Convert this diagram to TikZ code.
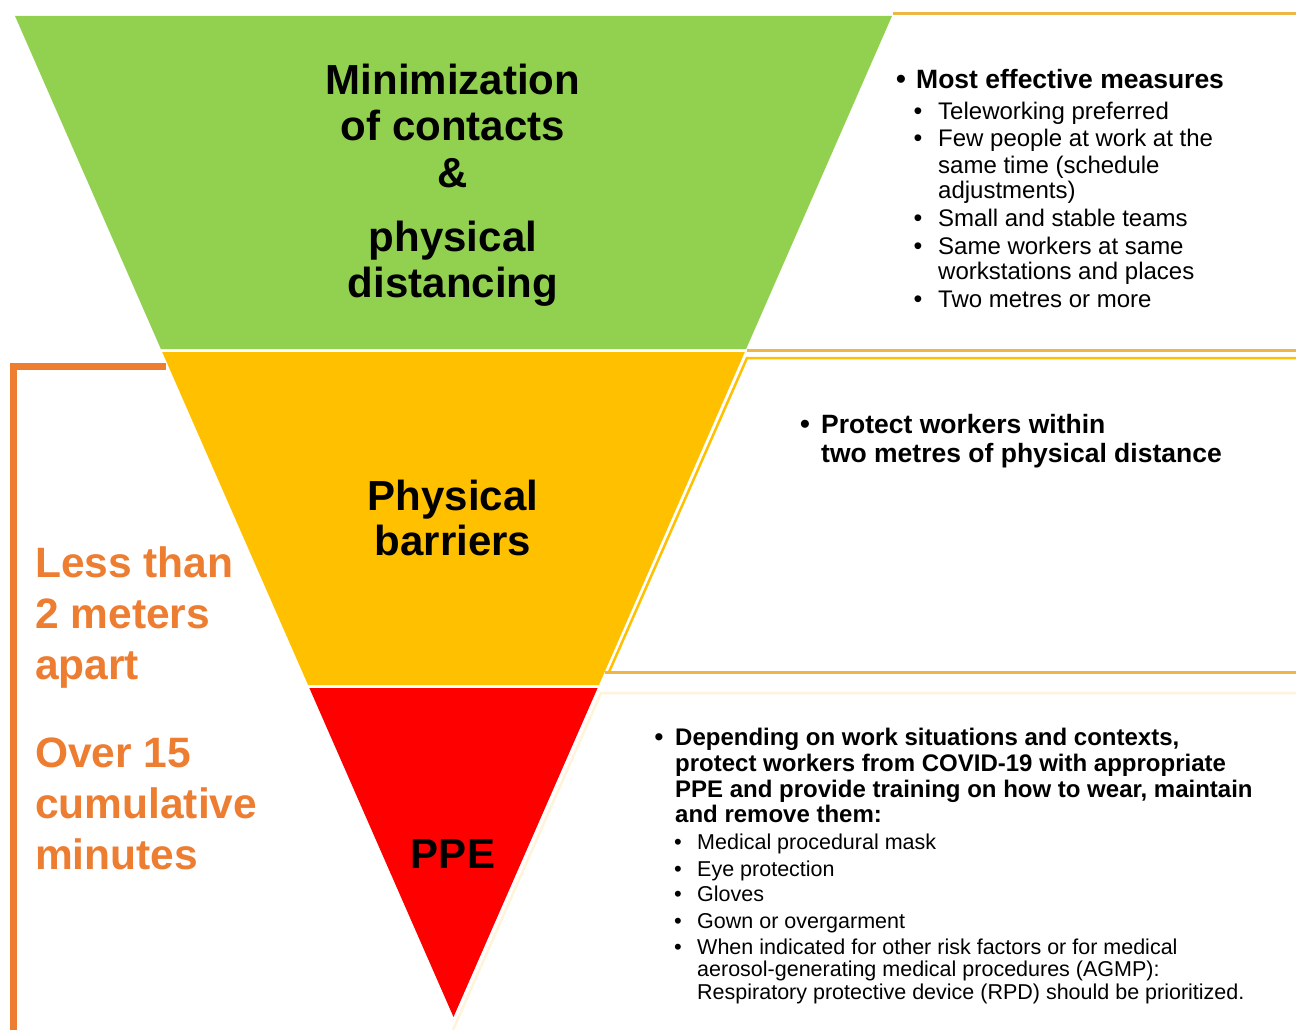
\documentclass[tikz,border=0pt]{standalone}
\usepackage{fontspec}
\setmainfont{Liberation Sans}
\usetikzlibrary{calc}
\definecolor{cgreen}{HTML}{92D050}
\definecolor{cyellow}{HTML}{FFC000}
\definecolor{cred}{HTML}{FF0000}
\definecolor{corange}{HTML}{ED7D31}
\definecolor{cgold}{HTML}{EEB646}
\definecolor{ccream}{HTML}{FFF3DA}
\tikzset{
  bigtxt/.style={anchor=base, inner sep=0, font=\fontsize{42}{46}\selectfont\bfseries},
  sidetxt/.style={anchor=base west, inner sep=0, text=corange, font=\fontsize{42.5}{46}\selectfont\bfseries},
  hdtxt/.style={anchor=base west, inner sep=0, font=\fontsize{26.5}{30}\selectfont\bfseries},
  hdbul/.style={anchor=base, inner sep=0, font=\fontsize{28}{30}\selectfont\bfseries},
  subtxt/.style={anchor=base west, inner sep=0, font=\fontsize{24}{27}\selectfont},
  subbul/.style={anchor=base, inner sep=0, font=\fontsize{25}{27}\selectfont},
  ppetxt/.style={anchor=base west, inner sep=0, font=\fontsize{24}{27}\selectfont\bfseries},
  ppebul/.style={anchor=base, inner sep=0, font=\fontsize{25}{27}\selectfont\bfseries},
  smtxt/.style={anchor=base west, inner sep=0, font=\fontsize{21.5}{24}\selectfont},
  smbul/.style={anchor=base, inner sep=0, font=\fontsize{22}{24}\selectfont},
  goldline/.style={draw=cgold, line width=3pt},
}
\begin{document}
\begin{tikzpicture}[x=1pt,y=-1pt]
\useasboundingbox (0,0) rectangle (1296,1030);
\fill[white] (0,0) rectangle (1296,1030);
% triangle bands
\coordinate (TL) at (15,16);
\coordinate (TR) at (892,16);
\coordinate (AP) at (453.5,1017);
\fill[cgreen] (TL) -- (TR) -- ($(TR)!0.33267!(AP)$) -- ($(TL)!0.33267!(AP)$) -- cycle;
\fill[cyellow] ($(TL)!0.33566!(AP)$) -- ($(TR)!0.33566!(AP)$) -- ($(TR)!0.66833!(AP)$) -- ($(TL)!0.66833!(AP)$) -- cycle;
\fill[cred] ($(TL)!0.67133!(AP)$) -- ($(TR)!0.67133!(AP)$) -- (AP) -- cycle;
% right panel outlines
\draw[goldline] (893,14) -- (1296,14);
\draw[goldline] (747,350) -- (1296,350);
\draw[cyellow, line width=2.5pt] (1296,358) -- (747,358) -- (609,672);
\draw[goldline] (605,672) -- (1296,672);
\draw[ccream, line width=2.5pt] (1296,693) -- (601,693) -- (453,1030);
% orange bracket
\draw[corange, line width=7pt] (13.5,1035) -- (13.5,366.5) -- (166,366.5);
% central texts
\node[bigtxt] (m1) at (453,95) {Minimization};
\node[bigtxt] (m2) at (453,141) {of contacts};
\node[bigtxt] (m3) at (453,187) {\&};
\node[bigtxt] (m4) at (453,251) {physical};
\node[bigtxt] (m5) at (453,297) {distancing};
\node[bigtxt] (p1) at (453,510) {Physical};
\node[bigtxt] (p2) at (453,555) {barriers};
\node[bigtxt] (e1) at (453,868) {PPE};
% side texts
\node[sidetxt] (s1) at (35,577) {Less than};
\node[sidetxt] (s2) at (35,628) {2 meters};
\node[sidetxt] (s3) at (35,679) {apart};
\node[sidetxt] (s4) at (35,767) {Over 15};
\node[sidetxt] (s5) at (35,818) {cumulative};
\node[sidetxt] (s6) at (35,869) {minutes};
% panel 1
\node[hdbul] (a0b) at (901,89) {\textbullet};
\node[hdtxt] (a0) at (916,89) {Most effective measures};
\node[subbul] (a1b) at (918,120) {\textbullet};
\node[subtxt] (a1) at (938,120) {Teleworking preferred};
\node[subbul] (a2b) at (918,147) {\textbullet};
\node[subtxt] (a2) at (938,147) {Few people at work at the};
\node[subtxt] (a2c) at (938,173) {same time (schedule};
\node[subtxt] (a2d) at (938,198) {adjustments)};
\node[subbul] (a3b) at (918,226) {\textbullet};
\node[subtxt] (a3) at (938,226) {Small and stable teams};
\node[subbul] (a4b) at (918,254) {\textbullet};
\node[subtxt] (a4) at (938,254) {Same workers at same};
\node[subtxt] (a4c) at (938,279) {workstations and places};
\node[subbul] (a5b) at (918,307) {\textbullet};
\node[subtxt] (a5) at (938,307) {Two metres or more};
% panel 2
\node[hdbul] (c0b) at (805,433) {\textbullet};
\node[hdtxt] (c0) at (821,433) {Protect workers within};
\node[hdtxt] (c1) at (821,462) {two metres of physical distance};
% panel 3
\node[ppebul] (d0b) at (659,745) {\textbullet};
\node[ppetxt] (d0) at (675,745) {Depending on work situations and contexts,};
\node[ppetxt] (d1) at (675,771) {protect workers from COVID-19 with appropriate};
\node[ppetxt] (d2) at (675,797) {PPE and provide training on how to wear, maintain};
\node[ppetxt] (d3) at (675,822) {and remove them:};
\node[smbul] (f1b) at (678,849) {\textbullet};
\node[smtxt] (f1) at (697,849) {Medical procedural mask};
\node[smbul] (f2b) at (678,876) {\textbullet};
\node[smtxt] (f2) at (697,876) {Eye protection};
\node[smbul] (f3b) at (678,901) {\textbullet};
\node[smtxt] (f3) at (697,901) {Gloves};
\node[smbul] (f4b) at (678,928) {\textbullet};
\node[smtxt] (f4) at (697,928) {Gown or overgarment};
\node[smbul] (f5b) at (678,954) {\textbullet};
\node[smtxt] (f5) at (697,954) {When indicated for other risk factors or for medical};
\node[smtxt] (f6) at (697,976) {aerosol-generating medical procedures (AGMP):};
\node[smtxt] (f7) at (697,999) {Respiratory protective device (RPD) should be prioritized.};
\end{tikzpicture}
\end{document}
